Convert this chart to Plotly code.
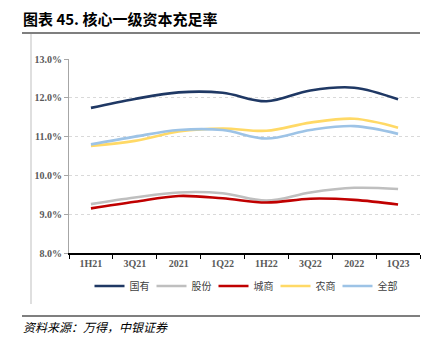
import plotly.graph_objects as go

categories = ["1H21", "3Q21", "2021", "1Q22", "1H22", "3Q22", "2022", "1Q23"]
guoyou = [11.74, 11.97, 12.14, 12.13, 11.91, 12.19, 12.26, 11.96]
gufen = [9.26, 9.43, 9.56, 9.54, 9.35, 9.56, 9.68, 9.65]
chengshang = [9.15, 9.32, 9.47, 9.41, 9.30, 9.40, 9.37, 9.25]
nongshang = [10.76, 10.89, 11.13, 11.21, 11.15, 11.36, 11.46, 11.23]
quanbu = [10.80, 11.00, 11.17, 11.17, 10.95, 11.17, 11.27, 11.07]
y_ticks = [8, 9, 10, 11, 12, 13]
y_labels = ["8.0%", "9.0%", "10.0%", "11.0%", "12.0%", "13.0%"]

series = [
    ("国有", guoyou, "#1F3864"),
    ("股份", gufen, "#BFBFBF"),
    ("城商", chengshang, "#C00000"),
    ("农商", nongshang, "#FFD966"),
    ("全部", quanbu, "#9DC3E6"),
]

fig = go.Figure()
for name, vals, color in series:
    fig.add_trace(go.Scatter(
        x=categories, y=vals, name=name, mode="lines",
        line=dict(color=color, width=2.6, shape="spline", smoothing=1.0),
    ))

serif = "Liberation Serif, Times New Roman, serif"
cjk = "Noto Sans CJK SC"

fig.update_layout(
    width=430, height=352,
    margin=dict(l=69, r=10, t=59, b=99),
    paper_bgcolor="white", plot_bgcolor="white",
    showlegend=True,
    legend=dict(
        orientation="h", x=0.5, xanchor="center", y=-0.095, yanchor="top",
        font=dict(family=cjk, size=10, color="#404040"),
        entrywidth=17, entrywidthmode="pixels",
        bgcolor="rgba(0,0,0,0)", tracegroupgap=0,
    ),
    xaxis=dict(
        type="category", tickson="boundaries", ticks="outside", ticklen=4,
        tickcolor="#000000", showline=True, linecolor="#000000", linewidth=1.5,
        showgrid=False, range=[-0.5, 7.5],
        tickfont=dict(family=serif, size=10, color="#595959", weight="bold"),
    ),
    yaxis=dict(
        range=[8, 13], tickvals=y_ticks, ticktext=y_labels,
        ticks="outside", ticklen=4, tickcolor="#A6A6A6",
        showline=True, linecolor="#A6A6A6", linewidth=1,
        showgrid=True, gridcolor="#D9D9D9", griddash="dot", gridwidth=1,
        zeroline=False,
        tickfont=dict(family=serif, size=10, color="#595959", weight="bold"),
    ),
)

def px_x(px):
    return (px - 69) / 351

def px_y(py):
    return (253 - py) / 194

fig.add_annotation(
    text="<b>图表 45. 核心一级资本充足率</b>", xref="paper", yref="paper",
    x=px_x(21), y=px_y(18), xanchor="left", yanchor="middle",
    showarrow=False, font=dict(family=cjk, size=15, color="#000000"),
)
fig.add_annotation(
    text="<i>资料来源：万得，中银证券</i>", xref="paper", yref="paper",
    x=px_x(21), y=px_y(326), xanchor="left", yanchor="middle",
    showarrow=False, font=dict(family=cjk, size=12, color="#000000"),
)

fig.add_shape(type="line", xref="paper", yref="paper",
              x0=px_x(22), x1=px_x(420), y0=px_y(33), y1=px_y(33),
              line=dict(color="#000000", width=1.2))
fig.add_shape(type="line", xref="paper", yref="paper",
              x0=px_x(22), x1=px_x(420), y0=px_y(316), y1=px_y(316),
              line=dict(color="#000000", width=1.2))
fig.add_shape(type="line", xref="paper", yref="paper",
              x0=px_x(31), x1=px_x(31), y0=px_y(34), y1=px_y(304),
              line=dict(color="#BFBFBF", width=1))

fig.write_html("out.html")
